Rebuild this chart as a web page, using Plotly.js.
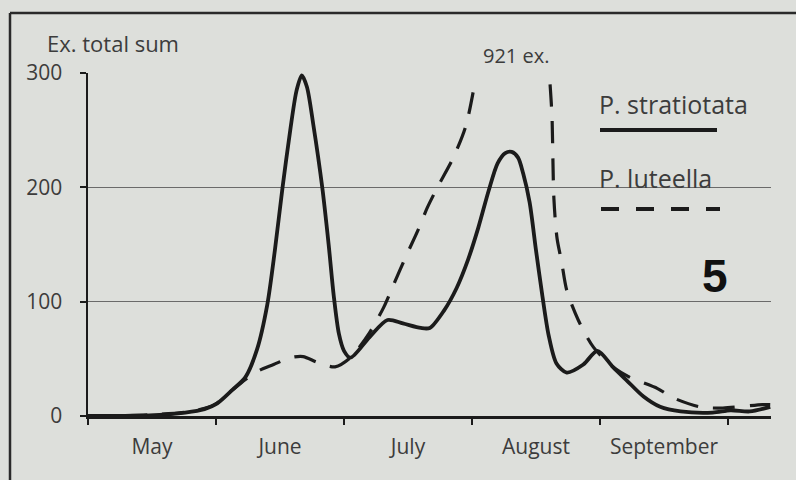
<!DOCTYPE html>
<html>
<head>
<meta charset="utf-8">
<script src="https://cdn.plot.ly/plotly-3.0.1.min.js"></script>
<style>
  html, body { margin: 0; padding: 0; background: #dddfdb; }
  #chart { width: 796px; height: 480px; }
</style>
</head>
<body>
<div id="chart"></div>
<script>
// ---- Data (x in months since 1 May; May = 0..1, June = 1..2, ...) ----
const months = ['May', 'June', 'July', 'August', 'September'];
const monthMid = [0.5, 1.5, 2.5, 3.5, 4.5];
const monthStart = [0, 1, 2, 3, 4, 5];
const yTicks = [0, 100, 200, 300];

const seriesNames = ['P. stratiotata', 'P. luteella'];

// P. stratiotata (solid)
const stratX = [0.00, 0.48, 0.76, 0.91, 1.01, 1.13, 1.23, 1.32, 1.40, 1.46, 1.52, 1.58, 1.63,
  1.67, 1.71, 1.76, 1.83, 1.88, 1.92, 1.96, 2.00, 2.05, 2.20, 2.34, 2.46, 2.60, 2.67,
  2.78, 2.88, 2.97, 3.05, 3.13, 3.20, 3.26, 3.31, 3.36, 3.40, 3.45, 3.50, 3.55, 3.60, 3.66, 3.74,
  3.87, 3.98, 4.10, 4.21, 4.34, 4.47, 4.63, 4.88, 5.02, 5.17, 5.33];
const stratY = [0, 0.5, 3, 6, 11, 23, 34, 58, 97, 145, 200, 250, 285,
  298, 288, 255, 200, 150, 105, 72, 57, 51, 69, 84, 81, 77, 77,
  92, 112, 137, 165, 197, 221, 230, 231, 226, 212, 187, 145, 105, 70, 46, 38,
  45, 57, 43, 31, 17, 8, 4, 3, 5, 4, 8];

// P. luteella (dashed) - its peak of 921 ex. runs off the top of the chart
const luteellaPeak = 921;
const lutX = [0.00, 0.48, 0.80, 0.99, 1.11, 1.23, 1.34, 1.45, 1.58, 1.68, 1.79,
  1.93, 2.05, 2.20, 2.31, 2.38, 2.49, 2.58, 2.65, 2.73, 2.85, 2.95, 3.02,
  null,
  3.61, 3.625, 3.64, 3.665, 3.70, 3.74, 3.83, 3.95, 4.10, 4.23, 4.45, 4.57,
  4.78, 4.96, 5.27, 5.33];
const lutY = [0, 1, 4, 10, 21, 32, 40, 45, 51, 52, 47,
  43, 51, 73, 95, 113, 141, 163, 182, 200, 225, 253, 290,
  null,
  290, 262, 190, 155, 135, 110, 84, 60, 43, 34, 24, 16,
  8, 7, 10, 10];

const ink = '#1b1b1b';
const txt = '#3c3c3c';
const FONT = '"Open Sans", sans-serif';

const traces = [
  { x: stratX, y: stratY, type: 'scatter', mode: 'lines', name: seriesNames[0],
    line: { color: ink, width: 3.8, shape: 'spline', smoothing: 0.8 }, hoverinfo: 'skip' },
  { x: lutX, y: lutY, type: 'scatter', mode: 'lines', name: seriesNames[1], connectgaps: false,
    line: { color: ink, width: 3.2, shape: 'spline', smoothing: 0.8, dash: '22px,15px' }, hoverinfo: 'skip' }
];

// pixel helpers for the decorative (non-data) layout pieces
const L = 88, R = 771, T = 73, B = 416;
const px = v => (v - L) / (R - L);
const py = v => (B - v) / (B - T);

const layout = {
  width: 796, height: 480,
  margin: { l: L, r: 796 - R, t: T, b: 480 - B, pad: 0 },
  paper_bgcolor: '#dddfdb', plot_bgcolor: '#dddfdb',
  showlegend: false,
  font: { family: FONT, color: txt, size: 21 },
  xaxis: {
    range: [0, 5.336], fixedrange: true,
    tickmode: 'array', tickvals: monthMid, ticktext: months,
    ticks: '', showgrid: false, zeroline: false,
    showline: true, linecolor: ink, linewidth: 2.5,
    ticklabelstandoff: 10,
    tickfont: { family: FONT, size: 21, color: txt },
    minor: { tickmode: 'array', tickvals: monthStart, ticks: 'outside', ticklen: 6,
             tickwidth: 2, tickcolor: ink, showgrid: false }
  },
  yaxis: {
    range: [0, 300], fixedrange: true,
    tickmode: 'array', tickvals: yTicks,
    ticks: 'outside', ticklen: 6, tickwidth: 2, tickcolor: ink,
    showgrid: true, gridcolor: '#6a6a6a', gridwidth: 1.6,
    zeroline: false, showline: true, linecolor: ink, linewidth: 2.5,
    ticklabelstandoff: 13,
    tickfont: { family: FONT, size: 21, color: txt }
  },
  annotations: [
    { text: 'Ex. total sum', xref: 'paper', yref: 'paper', x: px(45), y: py(43),
      xanchor: 'left', yanchor: 'middle', showarrow: false,
      font: { family: FONT, size: 22, color: txt } },
    { text: luteellaPeak + ' ex.', xref: 'paper', yref: 'paper', x: px(481), y: py(55),
      xanchor: 'left', yanchor: 'middle', showarrow: false,
      font: { family: FONT, size: 20, color: txt } },
    { text: seriesNames[0], xref: 'paper', yref: 'paper', x: px(597), y: py(104),
      xanchor: 'left', yanchor: 'middle', showarrow: false,
      font: { family: FONT, size: 25, color: txt } },
    { text: seriesNames[1], xref: 'paper', yref: 'paper', x: px(597), y: py(178),
      xanchor: 'left', yanchor: 'middle', showarrow: false,
      font: { family: FONT, size: 25, color: txt } },
    { text: '<b>5</b>', xref: 'paper', yref: 'paper', x: px(715), y: py(276),
      xanchor: 'center', yanchor: 'middle', showarrow: false,
      font: { family: '"Liberation Sans", Arial, sans-serif', size: 46, color: '#111' } }
  ],
  shapes: [
    // legend samples
    { type: 'line', xref: 'paper', yref: 'paper', x0: px(600), x1: px(717), y0: py(130), y1: py(130),
      line: { color: ink, width: 4 } },
    { type: 'line', xref: 'paper', yref: 'paper', x0: px(601), x1: px(720), y0: py(209), y1: py(209),
      line: { color: ink, width: 4, dash: '18px,17px' } },
    // outer frame (top and left edges)
    { type: 'line', xref: 'paper', yref: 'paper', x0: px(10), x1: px(800), y0: py(13), y1: py(13),
      line: { color: '#2a2a2a', width: 2.5 } },
    { type: 'line', xref: 'paper', yref: 'paper', x0: px(10), x1: px(10), y0: py(13), y1: py(490),
      line: { color: '#2a2a2a', width: 2.5 } }
  ]
};

Plotly.newPlot('chart', traces, layout, { staticPlot: true, displayModeBar: false });
</script>
</body>
</html>
